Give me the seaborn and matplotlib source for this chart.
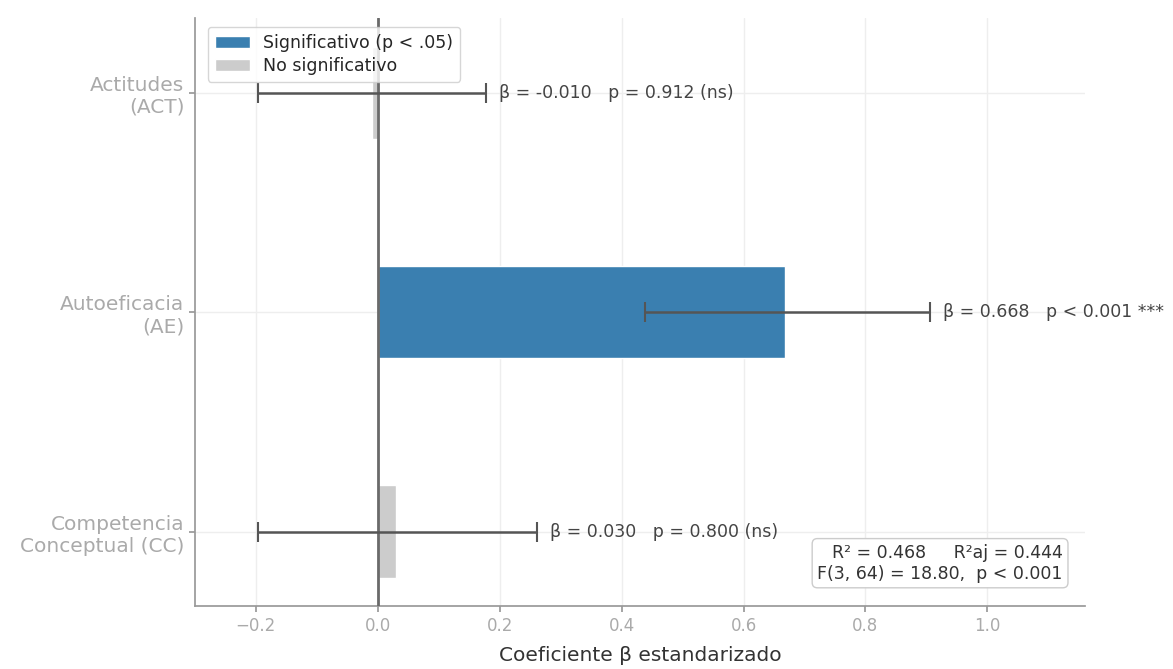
import numpy as np
import pandas as pd
import matplotlib
matplotlib.use("Agg")
import matplotlib.pyplot as plt
import seaborn as sns

categories = ["Actitudes\n(ACT)", "Autoeficacia\n(AE)", "Competencia\nConceptual (CC)"]
betas = [-0.010, 0.668, 0.030]
ci_low = [-0.197, 0.438, -0.197]
ci_high = [0.177, 0.905, 0.261]
pvals_txt = ["p = 0.912 (ns)", "p < 0.001 ***", "p = 0.800 (ns)"]
beta_txt = ["β = -0.010", "β = 0.668", "β = 0.030"]
sig_labels = ["No significativo", "Significativo (p < .05)", "No significativo"]
stats_text = "R² = 0.468     R²aj = 0.444\nF(3, 64) = 18.80,  p < 0.001"

sns.set_theme(style="whitegrid")
plt.rcParams['font.family'] = ['DejaVu Sans']

df = pd.DataFrame({"cat": categories, "beta": betas, "sig": sig_labels})
palette = {"Significativo (p < .05)": "#3a7fb0", "No significativo": "#cccccc"}

fig = plt.figure(figsize=(11.73, 6.69), dpi=100)
ax = fig.add_axes([0.166, 0.094, 0.759, 0.879])

sns.barplot(data=df, y="cat", x="beta", hue="sig", orient="h", dodge=False,
            width=0.42, palette=palette, saturation=1,
            hue_order=["Significativo (p < .05)", "No significativo"], ax=ax)

ax.axvline(0, color="#6a6a6a", lw=2, zorder=3)

ypos = np.arange(len(categories))
b = np.array(betas)
xerr = np.vstack([b - np.array(ci_low), np.array(ci_high) - b])
ax.errorbar(b, ypos, xerr=xerr, fmt="none", ecolor="#555555", elinewidth=1.8,
            capsize=7, capthick=1.5, zorder=4)

for i in range(len(categories)):
    ax.text(ci_high[i] + 0.022, ypos[i], f"{beta_txt[i]}   {pvals_txt[i]}",
            va="center", ha="left", fontsize=12.5, color="#444444")

ax.text(0.975, 0.04, stats_text, transform=ax.transAxes, ha="right", va="bottom",
        fontsize=12.5, color="#333333", multialignment="right",
        bbox=dict(boxstyle="round,pad=0.3", fc="white", ec="#cccccc"))

ax.set_xlim(-0.3, 1.16)
ax.set_ylim(2.34, -0.34)
ax.set_xticks([-0.2, 0.0, 0.2, 0.4, 0.6, 0.8, 1.0])
ax.set_xlabel("Coeficiente β estandarizado", fontsize=14.5, color="#333333", labelpad=8)
ax.set_ylabel("")
ax.tick_params(axis="y", labelsize=14.5, labelcolor="#aaaaaa", left=True, length=4, color="#999999")
ax.tick_params(axis="x", labelsize=12, labelcolor="#aaaaaa", bottom=True, length=4, color="#999999")
for lbl in ax.get_yticklabels():
    lbl.set_multialignment("right")
ax.grid(True, color="#eeeeee", lw=1)
sns.despine(ax=ax)
for s in ["left", "bottom"]:
    ax.spines[s].set_color("#999999")

h, l = ax.get_legend_handles_labels()
ax.legend(h, l, loc="upper left", fontsize=12.5, frameon=True, facecolor="white",
          edgecolor="#cccccc", bbox_to_anchor=(0.005, 1.0), borderpad=0.4,
          labelspacing=0.3)

fig.savefig("out.png", dpi=100)
